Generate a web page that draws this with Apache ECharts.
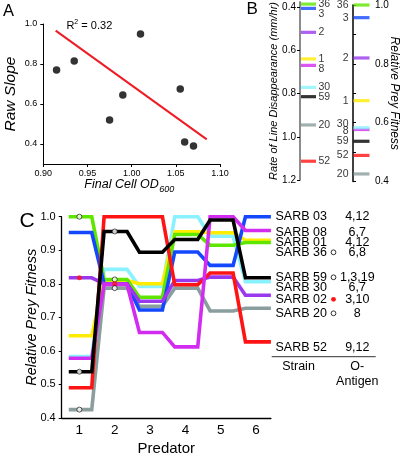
<!DOCTYPE html>
<html><head><meta charset="utf-8">
<script src="https://cdn.jsdelivr.net/npm/echarts@6/dist/echarts.min.js"></script>
<style>html,body{margin:0;padding:0;background:#fff}#wrap{position:relative;width:404px;height:457px}#c{width:404px;height:457px}
#lastTick{position:absolute;width:40px;text-align:center;font:9px "Liberation Sans",Arial,sans-serif;line-height:10px;color:#000;z-index:5}</style>
</head><body><div id="wrap"><div id="c"></div><div id="lastTick"></div></div>
<script>
// ---------- DATA ----------
// Panel A
const odFinal   = [0.915, 0.935, 0.975, 0.990, 1.010, 1.055, 1.060, 1.070];
const rawSlope  = [0.770, 0.815, 0.520, 0.645, 0.950, 0.675, 0.410, 0.390];
const fitLineX  = [0.914, 1.085];
const fitLineY  = [0.967, 0.423];
const rSquared  = '0.32';
const aXTicks   = [0.90, 0.95, 1.00, 1.05, 1.10];
const aYTicks   = [0.4, 0.6, 0.8, 1.0];

// Strains (panel C order)
const strains    = ['SARB 03','SARB 08','SARB 01','SARB 36','SARB 59','SARB 30','SARB 02','SARB 20','SARB 52'];
const strainNums = ['3','8','1','36','59','30','2','20','52'];
const antigens   = ['4,12','6,7','4,12','6,8','1,3,19','6,7','3,10','8','9,12'];
const markers    = ['','','','open','open','','red','open',''];

// Panel B
const lineRate   = [0.405, 0.669, 0.639, 0.385, 0.814, 0.771, 0.516, 0.945, 1.113];
const preyFitB   = [0.957, 0.577, 0.675, 1.000, 0.537, 0.583, 0.820, 0.426, 0.489];
const b1Ticks    = [0.4, 0.6, 0.8, 1.0, 1.2];
const b2Ticks    = [0.4, 0.6, 0.8, 1.0];

// Panel C
const predators = [1, 2, 3, 4, 5, 6];
const fit03 = [0.953, 0.800, 0.722, 0.895, 0.855, 1.000];
const fit08 = [0.578, 0.798, 0.655, 0.612, 1.000, 0.959];
const fit01 = [0.645, 0.810, 0.800, 0.955, 0.952, 0.930];
const fit36 = [1.000, 0.813, 0.760, 0.947, 0.915, 0.923];
const fit59 = [0.538, 0.956, 0.894, 0.932, 0.990, 0.818];
const fit30 = [0.583, 0.843, 0.792, 1.000, 0.942, 0.806];
const fit02 = [0.818, 0.800, 0.748, 0.810, 0.820, 0.766];
const fit20 = [0.425, 0.787, 0.733, 0.787, 0.719, 0.727];
const fit52 = [0.490, 1.000, 1.000, 0.797, 0.832, 0.627];

// ---------- STYLE / LAYOUT ----------
const FONT = '"Liberation Sans", Arial, Helvetica, sans-serif';
const colors = ['#1448ff','#d22cf0','#ffec00','#5ee600','#000000','#8af2ff','#9a38ee','#8a9e9e','#ff1414'];
const fitAll = [fit03, fit08, fit01, fit36, fit59, fit30, fit02, fit20, fit52];
const drawOrder = [7, 5, 2, 3, 0, 6, 8, 1, 4];
const labelYC = [216.7, 232.3, 242.3, 252.3, 277.3, 287.3, 299.3, 313.3, 347.7];
const b1Nudge = [5.7, 4, 0, 0, 0, 0, 0, 0, 0];
const b2Nudge = [0, 1.3, 0, 0, 0, -3.3, 0, 0, 0];
const gridA = { left: 43.3, top: 24, width: 176.7, height: 140 };

const series = [];

// Panel A
series.push({
  type: 'scatter', xAxisIndex: 0, yAxisIndex: 0, symbolSize: 7.5,
  itemStyle: { color: '#000' },
  data: odFinal.map((x, i) => [x, rawSlope[i]]), z: 3
});
series.push({
  type: 'line', xAxisIndex: 0, yAxisIndex: 0, symbol: 'none',
  lineStyle: { color: '#ee1c25', width: 2 },
  data: fitLineX.map((x, i) => [x, fitLineY[i]]), z: 2
});

// Panel B1 (rate)
series.push({
  type: 'scatter', xAxisIndex: 1, yAxisIndex: 1, symbol: 'rect', symbolSize: [15, 3.2],
  data: lineRate.map((v, i) => ({
    value: [0.5, v], itemStyle: { color: colors[i] },
    label: { offset: [0, b1Nudge[i]] }
  })),
  label: { show: true, position: 'right', distance: 2.5, color: '#000', fontSize: 10.5, fontFamily: FONT,
           formatter: p => strainNums[p.dataIndex] }
});
// Panel B2 (fitness)
series.push({
  type: 'scatter', xAxisIndex: 2, yAxisIndex: 2, symbol: 'rect', symbolSize: [16, 3.2],
  data: preyFitB.map((v, i) => ({
    value: [0.5, v], itemStyle: { color: colors[i] },
    label: { offset: [0, b2Nudge[i]] }
  })),
  label: { show: true, position: 'left', distance: 5, color: '#000', fontSize: 10.5, fontFamily: FONT,
           formatter: p => strainNums[p.dataIndex] }
});

// Panel C lines
drawOrder.forEach(i => {
  const vals = fitAll[i];
  const pts = [];
  predators.forEach((p, k) => {
    pts.push([p - 0.3, vals[k]]);
    pts.push([k === predators.length - 1 ? 6.42 : p + 0.35, vals[k]]);
  });
  series.push({
    type: 'line', name: strains[i], xAxisIndex: 3, yAxisIndex: 3, symbol: 'none',
    lineStyle: { color: colors[i], width: 3.6, join: 'miter' },
    data: pts, z: 2
  });
});
// Panel C markers at predators 1 and 2
const mk = [];
markers.forEach((m, i) => {
  if (!m) return;
  [0, 1].forEach(k => mk.push({
    value: [predators[k], fitAll[i][k]],
    itemStyle: m === 'red' ? { color: '#ff1414', borderWidth: 0 } : { color: '#fff', borderColor: '#000', borderWidth: 0.8 }
  }));
});
series.push({ type: 'scatter', xAxisIndex: 3, yAxisIndex: 3, symbolSize: 5, data: mk, z: 5 });

// ---------- GRAPHICS (texts) ----------
const mctx = document.createElement('canvas').getContext('2d');
const measure = (txt, font) => { mctx.font = font; return mctx.measureText(txt).width; };
const T = (text, x, y, size, opts = {}) => ({
  type: 'text', silent: true, z: 10,
  style: Object.assign({ text, x, y, font: (opts.style || '') + ' ' + size + 'px ' + FONT, fill: '#000',
    align: opts.align || 'left', textAlign: opts.align || 'left',
    verticalAlign: opts.valign || 'middle', textVerticalAlign: opts.valign || 'middle' })
});
const graphics = [];
graphics.push(T('A', 3, 11, 16.5));
graphics.push(T('B', 246.5, 9, 17));
graphics.push(T('C', 19.5, 221, 21));
// R^2 label
graphics.push(T('R', 66.5, 25.5, 11));
graphics.push(T('2', 74.3, 22, 7));
graphics.push(T(' = ' + rSquared, 78.3, 25.5, 11));
// Final Cell OD600 (subscript)
const odMain = 'Final Cell OD', odSub = '600';
const wMain = measure(odMain, 'italic 12.5px ' + FONT);
const wSub = measure(odSub, 'italic 9px ' + FONT);
const odStart = 129 - (wMain + wSub) / 2;
graphics.push(T(odMain, odStart, 185, 12.5, { style: 'italic' }));
graphics.push(T(odSub, odStart + wMain + 0.5, 189, 9, { style: 'italic' }));
// right labels of C
strains.forEach((s, i) => {
  graphics.push(T(s, 275.5, labelYC[i], 12.5));
  graphics.push(T(antigens[i], 357.3, labelYC[i], 12.5, { align: 'center' }));
  if (markers[i]) {
    graphics.push({
      type: 'circle', silent: true, z: 10,
      shape: { cx: 333.5, cy: labelYC[i], r: 2.4 },
      style: markers[i] === 'red' ? { fill: '#ff1414' } : { fill: '#fff', stroke: '#000', lineWidth: 0.8 }
    });
  }
});
graphics.push({ type: 'line', silent: true, z: 10, shape: { x1: 271.7, y1: 356.7, x2: 375.7, y2: 356.7 },
  style: { stroke: '#333', lineWidth: 1 } });
graphics.push(T('Strain', 298.5, 367, 12.5, { align: 'center' }));
graphics.push(T('O-', 357.3, 367, 12.5, { align: 'center' }));
graphics.push(T('Antigen', 357.3, 382, 12.5, { align: 'center' }));

const axisCommon = {
  axisLine: { show: true, lineStyle: { color: '#000', width: 1 } },
  splitLine: { show: false },
  nameMoveOverlap: false,
  nameTextStyle: { color: '#000', fontFamily: FONT, fontStyle: 'italic' }
};

const aXMin = aXTicks[0], aXMax = aXTicks[aXTicks.length - 1];
const aXLabelVals = aXTicks.slice(0, -1);

const option = {
  animation: false,
  backgroundColor: '#fff',
  grid: [
    gridA,
    { left: 300, top: 1.9, width: 17, height: 178.1 },
    { left: 353, top: 4, width: 17, height: 177.6 },
    { left: 61.7, top: 216.7, width: 209.2, height: 206.3 }
  ],
  xAxis: [
    Object.assign({}, axisCommon, { gridIndex: 0, type: 'value', min: aXMin, max: aXMax,
      axisTick: { show: true, length: 3, customValues: aXTicks, lineStyle: { color: '#000' } },
      axisLabel: { fontSize: 9, color: '#000', fontFamily: FONT, margin: 5, customValues: aXLabelVals,
                   formatter: v => v.toFixed(2) } }),
    { gridIndex: 1, type: 'value', min: 0, max: 1, show: false },
    { gridIndex: 2, type: 'value', min: 0, max: 1, show: false },
    Object.assign({}, axisCommon, { gridIndex: 3, type: 'value', min: 0.5, max: 6.42,
      axisLine: { show: true, lineStyle: { color: '#000', width: 1.3 } },
      axisTick: { show: false },
      axisLabel: { fontSize: 13.5, color: '#000', fontFamily: FONT, margin: 5.5, customValues: predators, formatter: v => String(v) },
      name: 'Predator', nameLocation: 'middle', nameGap: 23,
      nameTextStyle: { color: '#000', fontFamily: FONT, fontSize: 15 } })
  ],
  yAxis: [
    Object.assign({}, axisCommon, { gridIndex: 0, type: 'value', min: 0.3, max: 1.0,
      axisTick: { show: true, length: 3, customValues: aYTicks, lineStyle: { color: '#000' } },
      axisLabel: { fontSize: 9, color: '#000', fontFamily: FONT, margin: 6, customValues: aYTicks, formatter: v => v.toFixed(1) },
      name: 'Raw Slope', nameLocation: 'middle', nameGap: 25,
      nameTextStyle: { color: '#000', fontFamily: FONT, fontStyle: 'italic', fontSize: 15.5 } }),
    Object.assign({}, axisCommon, { gridIndex: 1, type: 'value', min: 0.375, max: 1.2, inverse: true,
      axisLine: { show: true, lineStyle: { color: '#8c8c8c', width: 2 } },
      axisTick: { show: true, length: 3, customValues: b1Ticks, lineStyle: { color: '#000' } },
      axisLabel: { fontSize: 10, color: '#000', fontFamily: FONT, margin: 4, customValues: b1Ticks, formatter: v => v.toFixed(1) },
      name: 'Rate of Line Disappearance (mm/hr)', nameLocation: 'middle', nameGap: 21,
      nameTextStyle: { color: '#000', fontFamily: FONT, fontStyle: 'italic', fontSize: 11 } }),
    Object.assign({}, axisCommon, { gridIndex: 2, type: 'value', position: 'right', min: 0.4, max: 1.0, interval: 0.1,
      axisLine: { show: true, lineStyle: { color: '#000', width: 1.5 } },
      axisTick: { show: true, length: 3, lineStyle: { color: '#000' } },
      axisLabel: { fontSize: 10, color: '#000', fontFamily: FONT, margin: 5,
        formatter: v => b2Ticks.some(t => Math.abs(t - v) < 1e-6) ? v.toFixed(1) : '' },
      name: 'Relative Prey Fitness', nameLocation: 'middle', nameGap: 18, nameRotate: -90,
      nameTextStyle: { color: '#000', fontFamily: FONT, fontStyle: 'italic', fontSize: 12 } }),
    Object.assign({}, axisCommon, { gridIndex: 3, type: 'value', min: 0.4, max: 1.0, interval: 0.1,
      axisLine: { show: true, lineStyle: { color: '#000', width: 1.3 } },
      axisTick: { show: true, length: 3, lineStyle: { color: '#000' } },
      axisLabel: { fontSize: 11, color: '#000', fontFamily: FONT, margin: 6, formatter: v => v.toFixed(1) },
      name: 'Relative Prey Fitness', nameLocation: 'middle', nameGap: 22.5,
      nameTextStyle: { color: '#000', fontFamily: FONT, fontStyle: 'italic', fontSize: 14.5 } })
  ],
  series: series,
  graphic: graphics
};

const chart = echarts.init(document.getElementById('c'), null, { renderer: 'canvas' });
chart.setOption(option);

// last x tick label of panel A as real text, placed through the axis scale
let lastPx = chart.convertToPixel({ xAxisIndex: 0, yAxisIndex: 0 }, [aXMax, 0.3]);
if (!lastPx || !isFinite(lastPx[0])) lastPx = [gridA.left + gridA.width, gridA.top + gridA.height];
const lt = document.getElementById('lastTick');
lt.textContent = aXMax.toFixed(2);
lt.style.left = (lastPx[0] - 20) + 'px';
lt.style.top = (lastPx[1] + 4) + 'px';
</script>
</body></html>
